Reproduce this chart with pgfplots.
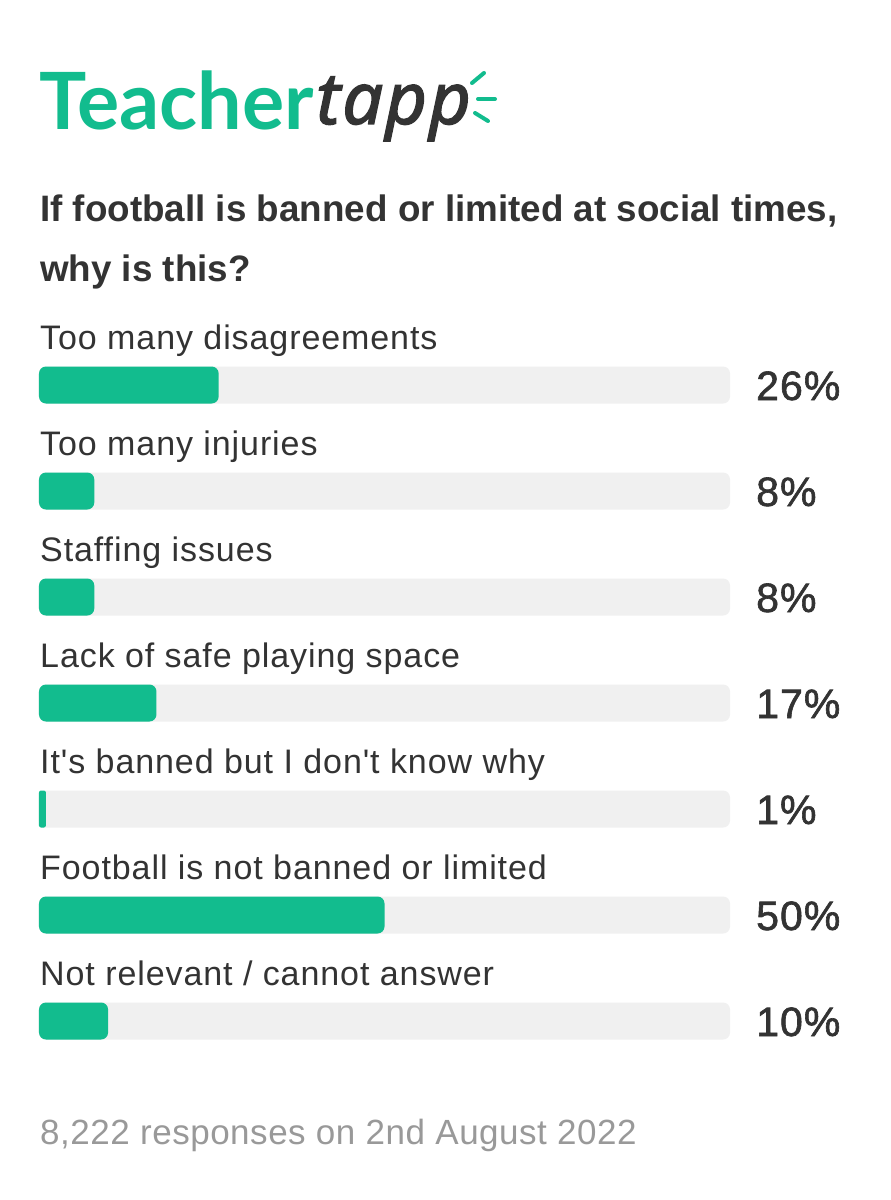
\documentclass[border=0pt]{standalone}
\usepackage{pgfplots}
\pgfplotsset{compat=1.18}
\usepackage{pgfplotstable}
\usepackage{fontspec}
\setmainfont{Liberation Sans}
\newfontfamily\logofont{Lato}
\newfontfamily\handfont[LetterSpace=3,ItalicFeatures={FakeBold=2}]{Noto Sans}
\newfontfamily\labelfont[LetterSpace=2.7]{Liberation Sans}
\newfontfamily\titlefont{Liberation Sans}
\newfontfamily\footfont[LetterSpace=1.5]{Liberation Sans}
\newfontfamily\valuefont[LetterSpace=2.5,FakeBold=1.5]{Liberation Sans}
\definecolor{tgreen}{HTML}{12BC8E}
\definecolor{ttrack}{HTML}{F0F0F0}
\definecolor{ttext}{HTML}{333333}
\definecolor{tfoot}{HTML}{999999}
\pgfplotstableread{
y share
0 26
1 8
2 8
3 17
4 1
5 50
6 10
}\sharedata
\begin{document}
\begin{tikzpicture}
\fill[white] (-39pt,-126pt) rectangle (852pt,1074pt);
\path[use as bounding box] (-39pt,-126pt) rectangle (852pt,1074pt);
\begin{axis}[
  at={(0pt,0pt)}, anchor=south west,
  scale only axis, width=691pt, height=742pt,
  xmin=0, xmax=100, ymin=-0.5, ymax=6.5, y dir=reverse,
  axis line style={draw=none}, tick style={draw=none},
  major tick length=0pt,
  xtick=\empty,
  ytick={0,1,2,3,4,5,6},
  yticklabels={Too many disagreements,Too many injuries,Staffing issues,Lack of safe playing space,It's banned but I don't know why,Football is not banned or limited,Not relevant / cannot answer},
  yticklabel style={anchor=base west, xshift=1pt, yshift=36pt, inner xsep=0pt, inner ysep=0pt, font=\labelfont\fontsize{34}{38}\selectfont, text=ttext},
  clip=false,
  xbar, bar width=37pt, bar shift=0pt,
]
\addplot[fill=ttrack, draw=none, rounded corners=7pt, point meta=explicit,
  nodes near coords={\pgfmathprintnumber{\pgfplotspointmeta}\%},
  nodes near coords style={anchor=base west, xshift=26pt, yshift=-15pt, inner xsep=0pt, inner ysep=0pt, text=ttext, font=\valuefont\fontsize{41}{43}\selectfont, /pgf/number format/assume math mode=true}]
  table[x expr=100, y=y, meta=share] {\sharedata};
\addplot[fill=tgreen, draw=none, rounded corners=7pt, restrict x to domain=2:100] table[x=share, y=y] {\sharedata};
\addplot[fill=tgreen, draw=none, rounded corners=2pt, restrict x to domain=0:2] table[x=share, y=y] {\sharedata};
\end{axis}
% logo and text, in px from the top-left corner: x-39, 1074-y
\node[anchor=base west, inner sep=0pt, text=tgreen, font=\logofont\bfseries\fontsize{79}{80}\selectfont] at (0pt,944pt) {Teacher};
\node[anchor=base west, inner sep=0pt, text=ttext, font=\handfont\itshape\fontsize{72}{72}\selectfont] at (277pt,950pt) {tapp};
\draw[tgreen, line width=4pt, line cap=round] (433pt,991pt) -- (445pt,1001pt);
\draw[tgreen, line width=4pt, line cap=round] (439pt,975pt) -- (456pt,975pt);
\draw[tgreen, line width=4pt, line cap=round] (436pt,961pt) -- (449pt,953pt);
\node[anchor=base west, inner sep=0pt, text=ttext, font=\titlefont\bfseries\fontsize{36.8}{37}\selectfont] at (1pt,852pt) {If football is banned or limited at social times,};
\node[anchor=base west, inner sep=0pt, text=ttext, font=\titlefont\bfseries\fontsize{36.8}{37}\selectfont] at (1pt,792pt) {why is this?};
\node[anchor=base west, inner sep=0pt, text=tfoot, font=\footfont\fontsize{35}{36}\selectfont] at (1pt,-70pt) {8,222 responses on 2nd August 2022};
\end{tikzpicture}
\end{document}
